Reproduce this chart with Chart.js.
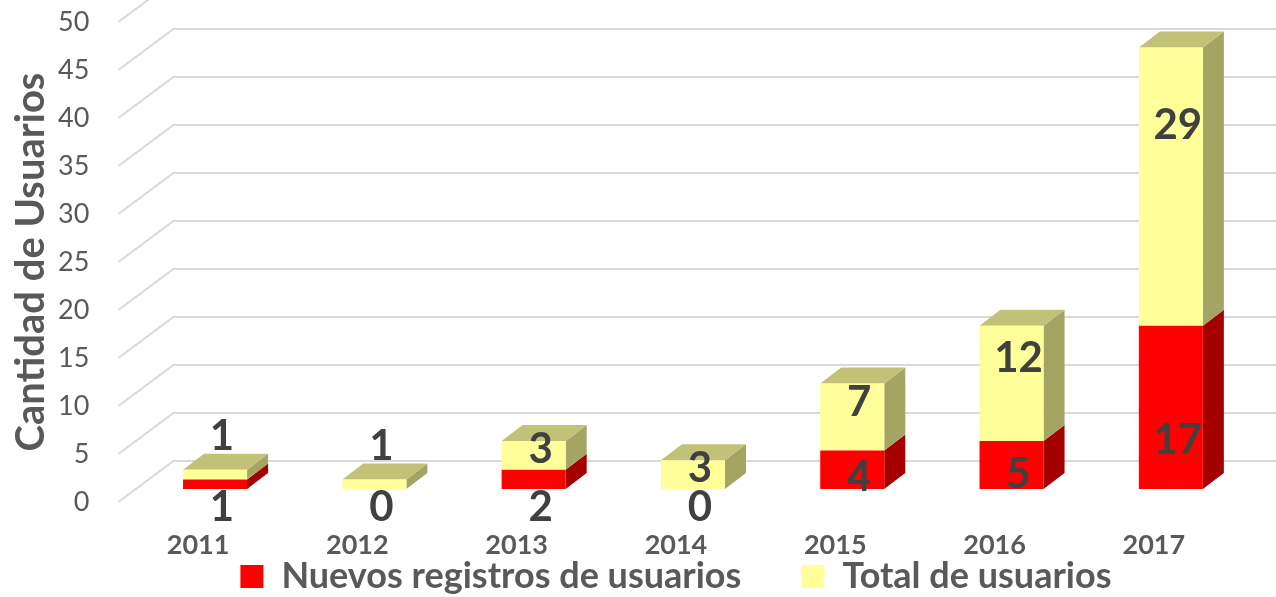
<!DOCTYPE html>
<html>
<head>
<meta charset="utf-8">
<script src="https://cdn.jsdelivr.net/npm/chart.js@4.4.1/dist/chart.umd.min.js"></script>
<style>
  html, body { margin: 0; padding: 0; background: #fff; }
</style>
</head>
<body>
<canvas id="chart" width="1276" height="597"></canvas>
<script>
const years = ["2011", "2012", "2013", "2014", "2015", "2016", "2017"];
const nuevos = [1, 0, 2, 0, 4, 5, 17];
const totales = [1, 1, 3, 3, 7, 12, 29];
const yMin = 0;
const yMax = 50;
const yStep = 5;

const RED = "#FF0000", RED_SIDE = "#A50000";
const YEL = "#FFFF99", YEL_SIDE = "#A4A463", YEL_TOP = "#C1C178";
const TEXT = "#595959";

// depth of the floor (front edge -> back wall) and where the columns sit in it
const wall = { dx: 55, dy: -41 };
const front = { dx: 17, dy: -13 };
const depth = { dx: 21, dy: -16 };

const sideColors = [RED_SIDE, YEL_SIDE];
const topColors = [RED, YEL_TOP];

const fake3d = {
    id: "fake3d",
    afterLayout(chart) {
        // legend row sits just under the year labels
        const lg = chart.legend;
        const pad = lg.options.labels.padding;
        lg.top = 558.5 - pad;
        lg.bottom = chart.height;
    },
    beforeDatasetsDraw(chart) {
        const { ctx, chartArea, scales } = chart;
        // walls: slanted gridlines on the side, flat ones on the back
        ctx.save();
        ctx.strokeStyle = "#D9D9D9";
        ctx.lineWidth = 2;
        scales.y.ticks.forEach(t => {
            const py = scales.y.getPixelForValue(t.value);
            ctx.beginPath();
            ctx.moveTo(chartArea.left, py);
            ctx.lineTo(chartArea.left + wall.dx, py + wall.dy);
            ctx.lineTo(chart.width, py + wall.dy);
            ctx.stroke();
        });
        ctx.restore();

        ctx.save();
        ctx.translate(front.dx, front.dy);
        chart.data.datasets.forEach((ds, di) => {
            const meta = chart.getDatasetMeta(di);
            meta.data.forEach((bar, i) => {
                const top = Math.min(bar.y, bar.base);
                const bottom = Math.max(bar.y, bar.base);
                const left = bar.x - bar.width / 2;
                const right = bar.x + bar.width / 2;
                if (bottom - top < 0.5) return;
                ctx.fillStyle = sideColors[di];
                ctx.beginPath();
                ctx.moveTo(right, top);
                ctx.lineTo(right + depth.dx, top + depth.dy);
                ctx.lineTo(right + depth.dx, bottom + depth.dy);
                ctx.lineTo(right, bottom);
                ctx.closePath();
                ctx.fill();
                const isTop = chart.data.datasets.slice(di + 1).every(d => !d.data[i]);
                if (isTop) {
                    ctx.fillStyle = topColors[di];
                    ctx.beginPath();
                    ctx.moveTo(left, top);
                    ctx.lineTo(left + depth.dx, top + depth.dy);
                    ctx.lineTo(right + depth.dx, top + depth.dy);
                    ctx.lineTo(right, top);
                    ctx.closePath();
                    ctx.fill();
                }
            });
        });
        // leave translated so the front faces land on the same plane
    },
    afterDatasetsDraw(chart) {
        const { ctx } = chart;
        ctx.restore();

        ctx.save();
        ctx.fillStyle = "#404040";
        ctx.font = "bold 42px Lato, 'DejaVu Sans', sans-serif";
        ctx.textAlign = "center";
        ctx.textBaseline = "middle";
        chart.data.datasets.forEach((ds, di) => {
            const meta = chart.getDatasetMeta(di);
            meta.data.forEach((bar, i) => {
                const top = Math.min(bar.y, bar.base) + front.dy;
                const bottom = Math.max(bar.y, bar.base) + front.dy;
                const h = bottom - top;
                const x = bar.x + front.dx + 7;
                let y;
                if (di === 0) {
                    y = h < 24 ? bottom + 18 : bottom - h * 0.3;
                } else {
                    y = h < 24 ? top + depth.dy - 17 : top + h * 0.28;
                }
                ctx.fillText(String(ds.data[i]), x, y);
            });
        });
        ctx.restore();
    }
};

Chart.defaults.font.family = "Lato, 'DejaVu Sans', sans-serif";

new Chart(document.getElementById("chart"), {
    type: "bar",
    data: {
        labels: years,
        datasets: [
            {
                label: "Nuevos registros de usuarios",
                data: nuevos,
                backgroundColor: RED,
                borderWidth: 0,
                categoryPercentage: 1,
                barPercentage: 0.402
            },
            {
                label: "Total de usuarios",
                data: totales,
                backgroundColor: YEL,
                borderWidth: 0,
                categoryPercentage: 1,
                barPercentage: 0.402
            }
        ]
    },
    options: {
        responsive: false,
        animation: false,
        devicePixelRatio: 1,
        layout: { padding: { top: 22, right: 42.5, left: 0, bottom: 0 } },
        scales: {
            x: {
                stacked: true,
                grid: { display: false, drawTicks: false },
                border: { display: false },
                ticks: {
                    color: TEXT,
                    padding: 27,
                    font: { weight: "bold", size: 27 }
                },
                afterFit: s => {
                    s.height = 62;
                    s.paddingLeft = 0;
                    s.paddingRight = 0;
                }
            },
            y: {
                stacked: true,
                min: yMin,
                max: yMax,
                grid: { display: false, drawTicks: false },
                border: { display: false },
                ticks: {
                    stepSize: yStep,
                    color: TEXT,
                    padding: 29,
                    font: { size: 27 }
                },
                title: {
                    display: true,
                    text: "Cantidad de Usuarios",
                    color: TEXT,
                    font: { weight: "bold", size: 40 },
                    padding: { top: 7, bottom: 0 }
                },
                afterFit: s => {
                    s.width = 118.4;
                    s.paddingTop = 0;
                    s.paddingBottom = 0;
                }
            }
        },
        plugins: {
            legend: {
                position: "bottom",
                fullSize: false,
                maxHeight: 33,
                labels: {
                    boxWidth: 23,
                    boxHeight: 23,
                    padding: 60,
                    color: TEXT,
                    font: { weight: "bold", size: 36 }
                }
            },
            tooltip: { enabled: false }
        }
    },
    plugins: [fake3d]
});
</script>
</body>
</html>
